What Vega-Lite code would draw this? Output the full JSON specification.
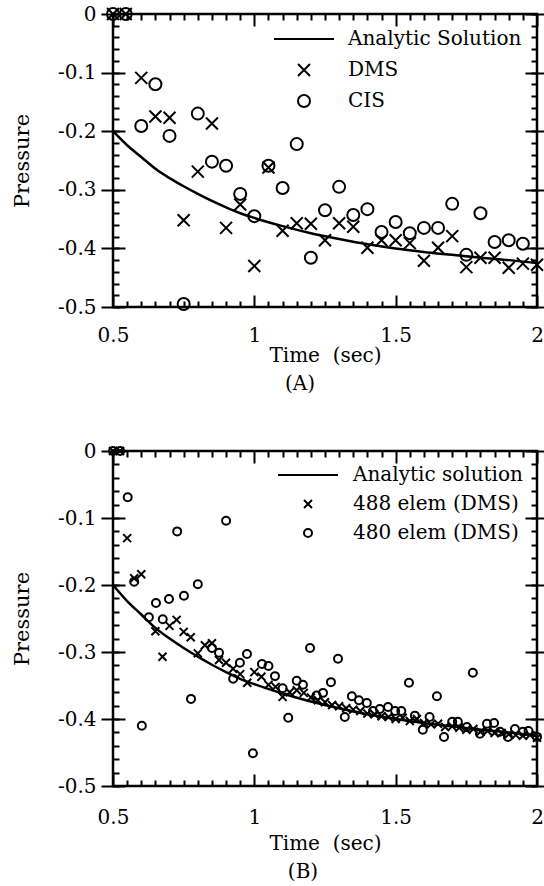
{
"$schema": "https://vega.github.io/schema/vega-lite/v6.json",
"padding": {"left": 10, "top": 2, "right": 0, "bottom": 0},
"spacing": 43,
"datasets": {
"curve": [
{"t":0.5,"p":-0.200},{"t":0.55,"p":-0.224},{"t":0.6,"p":-0.244},{"t":0.65,"p":-0.264},{"t":0.7,"p":-0.280},{"t":0.75,"p":-0.294},{"t":0.8,"p":-0.307},{"t":0.85,"p":-0.319},{"t":0.9,"p":-0.330},{"t":0.95,"p":-0.340},{"t":1.0,"p":-0.348},{"t":1.1,"p":-0.362},{"t":1.2,"p":-0.374},{"t":1.3,"p":-0.384},{"t":1.4,"p":-0.393},{"t":1.5,"p":-0.400},{"t":1.6,"p":-0.406},{"t":1.7,"p":-0.411},{"t":1.8,"p":-0.416},{"t":1.9,"p":-0.420},{"t":2.0,"p":-0.425}
],
"ptsA": [
{"series":"DMS","t":0.5,"p":0},{"series":"DMS","t":0.545,"p":0},{"series":"CIS","t":0.5,"p":0},{"series":"CIS","t":0.545,"p":0},
{"series":"DMS","t":0.6,"p":-0.109},{"series":"DMS","t":0.65,"p":-0.175},{"series":"DMS","t":0.7,"p":-0.177},{"series":"DMS","t":0.75,"p":-0.352},{"series":"DMS","t":0.8,"p":-0.269},{"series":"DMS","t":0.85,"p":-0.187},{"series":"DMS","t":0.9,"p":-0.365},{"series":"DMS","t":0.95,"p":-0.325},{"series":"DMS","t":1.0,"p":-0.430},{"series":"DMS","t":1.05,"p":-0.262},{"series":"DMS","t":1.1,"p":-0.370},{"series":"DMS","t":1.15,"p":-0.357},{"series":"DMS","t":1.2,"p":-0.358},{"series":"DMS","t":1.25,"p":-0.386},{"series":"DMS","t":1.3,"p":-0.357},{"series":"DMS","t":1.35,"p":-0.363},{"series":"DMS","t":1.4,"p":-0.399},{"series":"DMS","t":1.45,"p":-0.386},{"series":"DMS","t":1.5,"p":-0.386},{"series":"DMS","t":1.55,"p":-0.391},{"series":"DMS","t":1.6,"p":-0.421},{"series":"DMS","t":1.65,"p":-0.399},{"series":"DMS","t":1.7,"p":-0.379},{"series":"DMS","t":1.75,"p":-0.432},{"series":"DMS","t":1.8,"p":-0.416},{"series":"DMS","t":1.85,"p":-0.416},{"series":"DMS","t":1.9,"p":-0.433},{"series":"DMS","t":1.95,"p":-0.426},{"series":"DMS","t":2.0,"p":-0.428},
{"series":"CIS","t":0.6,"p":-0.191},{"series":"CIS","t":0.65,"p":-0.120},{"series":"CIS","t":0.7,"p":-0.208},{"series":"CIS","t":0.75,"p":-0.495},{"series":"CIS","t":0.8,"p":-0.170},{"series":"CIS","t":0.85,"p":-0.252},{"series":"CIS","t":0.9,"p":-0.259},{"series":"CIS","t":0.95,"p":-0.307},{"series":"CIS","t":1.0,"p":-0.345},{"series":"CIS","t":1.05,"p":-0.259},{"series":"CIS","t":1.1,"p":-0.297},{"series":"CIS","t":1.15,"p":-0.222},{"series":"CIS","t":1.2,"p":-0.416},{"series":"CIS","t":1.25,"p":-0.335},{"series":"CIS","t":1.3,"p":-0.295},{"series":"CIS","t":1.35,"p":-0.343},{"series":"CIS","t":1.4,"p":-0.333},{"series":"CIS","t":1.45,"p":-0.372},{"series":"CIS","t":1.5,"p":-0.355},{"series":"CIS","t":1.55,"p":-0.374},{"series":"CIS","t":1.6,"p":-0.365},{"series":"CIS","t":1.65,"p":-0.365},{"series":"CIS","t":1.7,"p":-0.324},{"series":"CIS","t":1.75,"p":-0.411},{"series":"CIS","t":1.8,"p":-0.340},{"series":"CIS","t":1.85,"p":-0.389},{"series":"CIS","t":1.9,"p":-0.386},{"series":"CIS","t":1.95,"p":-0.392}
],
"ptsB": [
{"series":"488 elem (DMS)","t":0.5,"p":0},{"series":"488 elem (DMS)","t":0.525,"p":0},{"series":"480 elem (DMS)","t":0.5,"p":0},{"series":"480 elem (DMS)","t":0.525,"p":0},
{"series":"488 elem (DMS)","t":0.55,"p":-0.130},{"series":"488 elem (DMS)","t":0.575,"p":-0.190},{"series":"488 elem (DMS)","t":0.6,"p":-0.184},{"series":"488 elem (DMS)","t":0.65,"p":-0.269},{"series":"488 elem (DMS)","t":0.675,"p":-0.307},{"series":"488 elem (DMS)","t":0.7,"p":-0.261},{"series":"488 elem (DMS)","t":0.725,"p":-0.252},{"series":"488 elem (DMS)","t":0.75,"p":-0.270},{"series":"488 elem (DMS)","t":0.775,"p":-0.278},{"series":"488 elem (DMS)","t":0.8,"p":-0.302},{"series":"488 elem (DMS)","t":0.825,"p":-0.290},{"series":"488 elem (DMS)","t":0.85,"p":-0.287},{"series":"488 elem (DMS)","t":0.875,"p":-0.312},{"series":"488 elem (DMS)","t":0.9,"p":-0.316},{"series":"488 elem (DMS)","t":0.925,"p":-0.325},{"series":"488 elem (DMS)","t":0.95,"p":-0.333},{"series":"488 elem (DMS)","t":0.975,"p":-0.346},{"series":"488 elem (DMS)","t":1.0,"p":-0.330},{"series":"488 elem (DMS)","t":1.025,"p":-0.337},{"series":"488 elem (DMS)","t":1.05,"p":-0.349},{"series":"488 elem (DMS)","t":1.075,"p":-0.352},{"series":"488 elem (DMS)","t":1.1,"p":-0.367},{"series":"488 elem (DMS)","t":1.125,"p":-0.360},{"series":"488 elem (DMS)","t":1.15,"p":-0.357},{"series":"488 elem (DMS)","t":1.175,"p":-0.361},{"series":"488 elem (DMS)","t":1.2,"p":-0.368},{"series":"488 elem (DMS)","t":1.225,"p":-0.372},{"series":"488 elem (DMS)","t":1.25,"p":-0.375},{"series":"488 elem (DMS)","t":1.275,"p":-0.379},{"series":"488 elem (DMS)","t":1.3,"p":-0.381},{"series":"488 elem (DMS)","t":1.325,"p":-0.384},{"series":"488 elem (DMS)","t":1.35,"p":-0.386},{"series":"488 elem (DMS)","t":1.375,"p":-0.388},{"series":"488 elem (DMS)","t":1.4,"p":-0.392},{"series":"488 elem (DMS)","t":1.425,"p":-0.393},{"series":"488 elem (DMS)","t":1.45,"p":-0.396},{"series":"488 elem (DMS)","t":1.475,"p":-0.397},{"series":"488 elem (DMS)","t":1.5,"p":-0.400},{"series":"488 elem (DMS)","t":1.525,"p":-0.398},{"series":"488 elem (DMS)","t":1.55,"p":-0.403},{"series":"488 elem (DMS)","t":1.575,"p":-0.400},{"series":"488 elem (DMS)","t":1.6,"p":-0.406},{"series":"488 elem (DMS)","t":1.625,"p":-0.408},{"series":"488 elem (DMS)","t":1.65,"p":-0.407},{"series":"488 elem (DMS)","t":1.675,"p":-0.412},{"series":"488 elem (DMS)","t":1.7,"p":-0.411},{"series":"488 elem (DMS)","t":1.725,"p":-0.413},{"series":"488 elem (DMS)","t":1.75,"p":-0.416},{"series":"488 elem (DMS)","t":1.775,"p":-0.415},{"series":"488 elem (DMS)","t":1.8,"p":-0.419},{"series":"488 elem (DMS)","t":1.825,"p":-0.418},{"series":"488 elem (DMS)","t":1.85,"p":-0.421},{"series":"488 elem (DMS)","t":1.875,"p":-0.421},{"series":"488 elem (DMS)","t":1.9,"p":-0.423},{"series":"488 elem (DMS)","t":1.925,"p":-0.424},{"series":"488 elem (DMS)","t":1.95,"p":-0.425},{"series":"488 elem (DMS)","t":1.975,"p":-0.424},{"series":"488 elem (DMS)","t":2.0,"p":-0.428},
{"series":"480 elem (DMS)","t":0.552,"p":-0.069},{"series":"480 elem (DMS)","t":0.575,"p":-0.195},{"series":"480 elem (DMS)","t":0.602,"p":-0.410},{"series":"480 elem (DMS)","t":0.627,"p":-0.248},{"series":"480 elem (DMS)","t":0.652,"p":-0.227},{"series":"480 elem (DMS)","t":0.676,"p":-0.251},{"series":"480 elem (DMS)","t":0.698,"p":-0.221},{"series":"480 elem (DMS)","t":0.727,"p":-0.120},{"series":"480 elem (DMS)","t":0.751,"p":-0.216},{"series":"480 elem (DMS)","t":0.776,"p":-0.370},{"series":"480 elem (DMS)","t":0.8,"p":-0.199},{"series":"480 elem (DMS)","t":0.85,"p":-0.294},{"series":"480 elem (DMS)","t":0.875,"p":-0.301},{"series":"480 elem (DMS)","t":0.9,"p":-0.104},{"series":"480 elem (DMS)","t":0.925,"p":-0.340},{"series":"480 elem (DMS)","t":0.949,"p":-0.316},{"series":"480 elem (DMS)","t":0.974,"p":-0.303},{"series":"480 elem (DMS)","t":0.995,"p":-0.451},{"series":"480 elem (DMS)","t":1.027,"p":-0.318},{"series":"480 elem (DMS)","t":1.05,"p":-0.321},{"series":"480 elem (DMS)","t":1.073,"p":-0.336},{"series":"480 elem (DMS)","t":1.1,"p":-0.354},{"series":"480 elem (DMS)","t":1.12,"p":-0.398},{"series":"480 elem (DMS)","t":1.15,"p":-0.343},{"series":"480 elem (DMS)","t":1.172,"p":-0.349},{"series":"480 elem (DMS)","t":1.197,"p":-0.294},{"series":"480 elem (DMS)","t":1.22,"p":-0.365},{"series":"480 elem (DMS)","t":1.243,"p":-0.361},{"series":"480 elem (DMS)","t":1.271,"p":-0.345},{"series":"480 elem (DMS)","t":1.296,"p":-0.310},{"series":"480 elem (DMS)","t":1.32,"p":-0.397},{"series":"480 elem (DMS)","t":1.345,"p":-0.366},{"series":"480 elem (DMS)","t":1.37,"p":-0.372},{"series":"480 elem (DMS)","t":1.398,"p":-0.376},{"series":"480 elem (DMS)","t":1.42,"p":-0.388},{"series":"480 elem (DMS)","t":1.444,"p":-0.385},{"series":"480 elem (DMS)","t":1.473,"p":-0.382},{"series":"480 elem (DMS)","t":1.498,"p":-0.388},{"series":"480 elem (DMS)","t":1.52,"p":-0.388},{"series":"480 elem (DMS)","t":1.547,"p":-0.346},{"series":"480 elem (DMS)","t":1.568,"p":-0.395},{"series":"480 elem (DMS)","t":1.596,"p":-0.416},{"series":"480 elem (DMS)","t":1.62,"p":-0.397},{"series":"480 elem (DMS)","t":1.646,"p":-0.366},{"series":"480 elem (DMS)","t":1.671,"p":-0.427},{"series":"480 elem (DMS)","t":1.7,"p":-0.404},{"series":"480 elem (DMS)","t":1.72,"p":-0.404},{"series":"480 elem (DMS)","t":1.752,"p":-0.412},{"series":"480 elem (DMS)","t":1.773,"p":-0.331},{"series":"480 elem (DMS)","t":1.798,"p":-0.422},{"series":"480 elem (DMS)","t":1.823,"p":-0.407},{"series":"480 elem (DMS)","t":1.848,"p":-0.406},{"series":"480 elem (DMS)","t":1.869,"p":-0.419},{"series":"480 elem (DMS)","t":1.897,"p":-0.427},{"series":"480 elem (DMS)","t":1.922,"p":-0.415},{"series":"480 elem (DMS)","t":1.95,"p":-0.419},{"series":"480 elem (DMS)","t":1.97,"p":-0.418},{"series":"480 elem (DMS)","t":2.0,"p":-0.427}
]
},
"resolve": {"scale": {"shape": "independent"}},
"vconcat": [
{
"width": 424, "height": 293,
"title": {"text": "(A)", "orient": "bottom", "anchor": "middle", "dx": -25, "offset": 9},
"resolve": {"axis": {"x": "independent", "y": "independent"}},
"layer": [
{
"data": {"name": "curve"},
"mark": {"type": "line", "color": "black", "strokeWidth": 2.5, "interpolate": "monotone"},
"encoding": {
"x": {"field": "t", "type": "quantitative", "scale": {"domain": [0.5, 2], "nice": false, "zero": false},
 "axis": {"orient": "bottom", "values": [0.5, 1, 1.5, 2], "labelExpr": "format(datum.value, '~g')", "ticks": false, "grid": false, "labelPadding": 18, "title": "Time\u00a0\u00a0(sec)", "titlePadding": 0}},
"y": {"field": "p", "type": "quantitative", "scale": {"domain": [-0.5, 0], "nice": false, "zero": false},
 "axis": {"orient": "left", "values": [0, -0.1, -0.2, -0.3, -0.4, -0.5], "labelExpr": "datum.value === 0 ? '0' : '-' + format(-datum.value, '~g')", "tickSize": 12, "tickColor": "black", "tickWidth": 2, "labelPadding": 5, "grid": true, "gridColor": "black", "gridWidth": 2, "gridDash": [12, 400, 12, 3000], "title": "Pressure", "titleFontSize": 21, "titlePadding": 25}}
}
},
{
"data": {"name": "ptsA"},
"mark": {"type": "point", "filled": false, "color": "black", "strokeWidth": 2, "size": 3600, "opacity": 1},
"encoding": {
"x": {"field": "t", "type": "quantitative", "scale": {"domain": [0.5, 2], "nice": false, "zero": false},
 "axis": {"orient": "top", "values": [0.5,0.55,0.6,0.65,0.7,0.75,0.8,0.85,0.9,0.95,1,1.05,1.1,1.15,1.2,1.25,1.3,1.35,1.4,1.45,1.5,1.55,1.6,1.65,1.7,1.75,1.8,1.85,1.9,1.95,2], "labels": false, "ticks": false, "title": null, "grid": true, "gridColor": "black", "gridWidth": 2,
 "gridDash": {"condition": {"test": "abs(datum.value*2 - round(datum.value*2)) < 0.001", "value": [12, 269, 12, 3000]}, "value": [6, 281, 6, 3000]}}},
"y": {"field": "p", "type": "quantitative", "scale": {"domain": [-0.5, 0], "nice": false, "zero": false},
 "axis": {"orient": "right", "values": [0,-0.02,-0.04,-0.06,-0.08,-0.1,-0.12,-0.14,-0.16,-0.18,-0.2,-0.22,-0.24,-0.26,-0.28,-0.3,-0.32,-0.34,-0.36,-0.38,-0.4,-0.42,-0.44,-0.46,-0.48,-0.5], "labels": false, "title": null, "tickSize": 10, "tickColor": "black", "tickWidth": 2,
 "tickOpacity": {"condition": {"test": "abs(datum.value*10 - round(datum.value*10)) < 0.001", "value": 1}, "value": 0},
 "grid": true, "gridColor": "black", "gridWidth": 2, "gridDash": [6, 412, 6, 3000]}},
"shape": {"field": "series", "type": "nominal",
 "scale": {"domain": ["Analytic Solution", "DMS", "CIS"], "range": ["M-1,0H1", "M-0.2,-0.2L0.2,0.2M-0.2,0.2L0.2,-0.2", "M0.2,0A0.2,0.2,0,1,1,-0.2,0A0.2,0.2,0,1,1,0.2,0Z"]},
 "legend": {"orient": "top-right", "offset": 15, "title": null, "symbolSize": 3600, "clipHeight": 20, "symbolStrokeWidth": 2, "symbolStrokeColor": "black", "symbolFillColor": "transparent", "labelOffset": 13, "rowPadding": 11, "padding": 0}}
}
}
]
},
{
"width": 424, "height": 335,
"title": {"text": "(B)", "orient": "bottom", "anchor": "middle", "dx": -22, "offset": 9},
"resolve": {"axis": {"x": "independent", "y": "independent"}},
"layer": [
{
"data": {"name": "curve"},
"mark": {"type": "line", "color": "black", "strokeWidth": 2.5, "interpolate": "monotone"},
"encoding": {
"x": {"field": "t", "type": "quantitative", "scale": {"domain": [0.5, 2], "nice": false, "zero": false},
 "axis": {"orient": "bottom", "values": [0.5, 1, 1.5, 2], "labelExpr": "format(datum.value, '~g')", "ticks": false, "grid": false, "labelPadding": 21, "title": "Time\u00a0\u00a0(sec)", "titlePadding": 6}},
"y": {"field": "p", "type": "quantitative", "scale": {"domain": [-0.5, 0], "nice": false, "zero": false},
 "axis": {"orient": "left", "values": [0, -0.1, -0.2, -0.3, -0.4, -0.5], "labelExpr": "datum.value === 0 ? '0' : '-' + format(-datum.value, '~g')", "tickSize": 12, "tickColor": "black", "tickWidth": 2, "labelPadding": 5, "grid": true, "gridColor": "black", "gridWidth": 2, "gridDash": [12, 400, 12, 3000], "title": "Pressure", "titleFontSize": 21, "titlePadding": 25}}
}
},
{
"data": {"name": "ptsB"},
"mark": {"type": "point", "filled": false, "color": "black", "strokeWidth": 2, "size": 3600, "opacity": 1},
"encoding": {
"x": {"field": "t", "type": "quantitative", "scale": {"domain": [0.5, 2], "nice": false, "zero": false},
 "axis": {"orient": "top", "values": [0.5,0.55,0.6,0.65,0.7,0.75,0.8,0.85,0.9,0.95,1,1.05,1.1,1.15,1.2,1.25,1.3,1.35,1.4,1.45,1.5,1.55,1.6,1.65,1.7,1.75,1.8,1.85,1.9,1.95,2], "labels": false, "ticks": false, "title": null, "grid": true, "gridColor": "black", "gridWidth": 2,
 "gridDash": {"condition": {"test": "abs(datum.value*2 - round(datum.value*2)) < 0.001", "value": [12, 311, 12, 3000]}, "value": [6, 323, 6, 3000]}}},
"y": {"field": "p", "type": "quantitative", "scale": {"domain": [-0.5, 0], "nice": false, "zero": false},
 "axis": {"orient": "right", "values": [0,-0.02,-0.04,-0.06,-0.08,-0.1,-0.12,-0.14,-0.16,-0.18,-0.2,-0.22,-0.24,-0.26,-0.28,-0.3,-0.32,-0.34,-0.36,-0.38,-0.4,-0.42,-0.44,-0.46,-0.48,-0.5], "labels": false, "title": null, "tickSize": 10, "tickColor": "black", "tickWidth": 2,
 "tickOpacity": {"condition": {"test": "abs(datum.value*10 - round(datum.value*10)) < 0.001", "value": 1}, "value": 0},
 "grid": true, "gridColor": "black", "gridWidth": 2, "gridDash": [6, 412, 6, 3000]}},
"shape": {"field": "series", "type": "nominal",
 "scale": {"domain": ["Analytic solution", "488 elem (DMS)", "480 elem (DMS)"], "range": ["M-1,0H1", "M-0.133,-0.133L0.133,0.133M-0.133,0.133L0.133,-0.133", "M0.133,0A0.133,0.133,0,1,1,-0.133,0A0.133,0.133,0,1,1,0.133,0Z"]},
 "legend": {"orient": "top-right", "offset": 14, "title": null, "symbolSize": 3600, "clipHeight": 20, "symbolStrokeWidth": 2, "symbolStrokeColor": "black", "symbolFillColor": "transparent", "labelOffset": 14, "rowPadding": 9, "padding": 0}}
}
}
]
}
],
"config": {
"font": "DejaVu Serif",
"view": {"stroke": "black", "strokeWidth": 2.5},
"title": {"font": "DejaVu Serif", "fontSize": 20, "fontWeight": "normal", "color": "black"},
"axis": {"domain": false, "zindex": 1, "labelFont": "DejaVu Serif", "labelFontSize": 20, "labelColor": "black", "labelFlush": false, "labelOverlap": false, "labelBound": false,
 "titleFont": "DejaVu Serif", "titleFontSize": 20, "titleFontWeight": "normal", "titleColor": "black", "gridOpacity": 1},
"legend": {"labelFont": "DejaVu Serif", "labelFontSize": 20, "labelColor": "black", "labelLimit": 400}
}
}
